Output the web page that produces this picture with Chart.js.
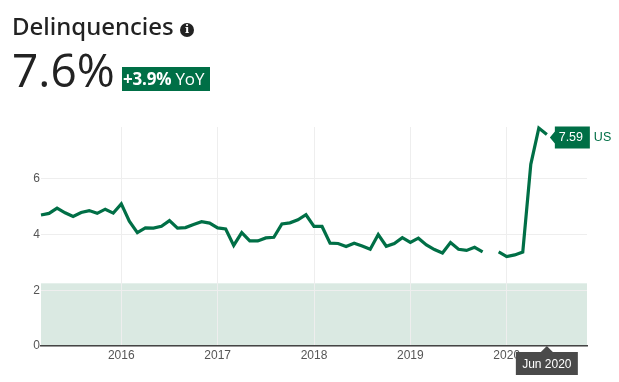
<!DOCTYPE html>
<html>
<head>
<meta charset="utf-8">
<script src="https://cdn.jsdelivr.net/npm/chart.js@4"></script>
<style>
  html, body { margin: 0; padding: 0; background: #fff; }
  #wrap { position: relative; width: 619px; height: 382px; overflow: hidden; }
  canvas { position: absolute; left: 0; top: 0; }
  .title { position: absolute; left: 12px; top: 9px; font: 500 24px "Noto Sans", sans-serif; color: #222; white-space: nowrap; }
  .info { position: absolute; left: 180px; top: 23px; width: 14px; height: 14px; border-radius: 50%; background: #222; color: #fff; font: bold 11px/14px "DejaVu Serif", serif; text-align: center; }
  .big { position: absolute; left: 12px; top: 38px; font: 400 46px "Open Sans", sans-serif; color: #222; white-space: nowrap; }
  .yoy { position: absolute; left: 122px; top: 67px; width: 88px; height: 24px; background: #006f46; color: #fff; font: 400 17px/24px "Open Sans", sans-serif; white-space: nowrap; overflow: hidden; letter-spacing: -0.2px; }
  .yoy b { font-weight: 700; margin-left: 1px; }
</style>
</head>
<body>
<div id="wrap">
  <canvas id="chart" width="619" height="382"></canvas>
  <div class="title">Delinquencies</div>
  <div class="info">i</div>
  <div class="big">7.6%</div>
  <div class="yoy"><b>+3.9%</b> YoY</div>
</div>
<script>
var green = "#006f46";

// monthly from Mar 2015 to Nov 2020
var months = ['Mar 2015','Apr 2015','May 2015','Jun 2015','Jul 2015','Aug 2015','Sep 2015','Oct 2015','Nov 2015','Dec 2015',
  'Jan 2016','Feb 2016','Mar 2016','Apr 2016','May 2016','Jun 2016','Jul 2016','Aug 2016','Sep 2016','Oct 2016','Nov 2016','Dec 2016',
  'Jan 2017','Feb 2017','Mar 2017','Apr 2017','May 2017','Jun 2017','Jul 2017','Aug 2017','Sep 2017','Oct 2017','Nov 2017','Dec 2017',
  'Jan 2018','Feb 2018','Mar 2018','Apr 2018','May 2018','Jun 2018','Jul 2018','Aug 2018','Sep 2018','Oct 2018','Nov 2018','Dec 2018',
  'Jan 2019','Feb 2019','Mar 2019','Apr 2019','May 2019','Jun 2019','Jul 2019','Aug 2019','Sep 2019','Oct 2019','Nov 2019','Dec 2019',
  'Jan 2020','Feb 2020','Mar 2020','Apr 2020','May 2020','Jun 2020','Jul 2020','Aug 2020','Sep 2020','Oct 2020','Nov 2020'];

var delinquencies = [4.70,4.76,4.95,4.78,4.65,4.79,4.86,4.76,4.91,4.77,
  5.10,4.48,4.07,4.24,4.23,4.30,4.50,4.23,4.25,4.36,4.46,4.41,
  4.24,4.20,3.61,4.07,3.77,3.77,3.88,3.90,4.38,4.42,4.53,4.71,
  4.29,4.29,3.69,3.68,3.57,3.69,3.59,3.47,4.00,3.58,3.68,3.89,
  3.72,3.87,3.63,3.46,3.34,3.71,3.47,3.43,3.54,3.38,null,3.38,
  3.21,3.27,3.37,6.52,7.82,7.59,null,null,null,null,null];

var yTicks = [0, 2, 4, 6];
var yMax = 7.86;
var bandTop = 2.25;
var currentIndex = 63;
var seriesName = "US";

var overlays = {
  id: "overlays",
  beforeDraw: function (chart) {
    var a = chart.chartArea, y = chart.scales.y, top = y.getPixelForValue(bandTop);
    chart.ctx.fillStyle = "#dae9e2";
    chart.ctx.fillRect(a.left, top, a.right - a.left, y.getPixelForValue(0) - top);
  },
  afterDraw: function (chart) {
    var ctx = chart.ctx;
    var pt = chart.getDatasetMeta(0).data[currentIndex];
    var bottom = chart.chartArea.bottom;
    ctx.save();

    // value flag at the end of the line
    var fx = pt.x + 7, fy = pt.y + 3;
    ctx.fillStyle = green;
    ctx.beginPath();
    ctx.moveTo(fx - 4, fy);
    ctx.lineTo(fx + 1, fy - 6);
    ctx.lineTo(fx + 1, fy - 11);
    ctx.lineTo(fx + 36, fy - 11);
    ctx.lineTo(fx + 36, fy + 11);
    ctx.lineTo(fx + 1, fy + 11);
    ctx.lineTo(fx + 1, fy + 6);
    ctx.closePath();
    ctx.fill();
    ctx.font = '12.5px "Liberation Sans", sans-serif';
    ctx.textBaseline = "middle";
    ctx.fillStyle = "#fff";
    ctx.textAlign = "center";
    ctx.fillText(delinquencies[currentIndex].toFixed(2), fx + 17, fy);
    ctx.fillStyle = green;
    ctx.textAlign = "left";
    ctx.fillText(seriesName, fx + 40, fy);

    // hover label under the axis
    var bw = 62, bh = 23, bx = pt.x - 31, by = bottom + 6;
    ctx.font = '12px "Liberation Sans", sans-serif';
    ctx.fillStyle = "#4a4a4a";
    ctx.beginPath();
    ctx.moveTo(pt.x, bottom);
    ctx.lineTo(pt.x + 6, by);
    ctx.lineTo(bx + bw, by);
    ctx.lineTo(bx + bw, by + bh);
    ctx.lineTo(bx, by + bh);
    ctx.lineTo(bx, by);
    ctx.lineTo(pt.x - 6, by);
    ctx.closePath();
    ctx.fill();
    ctx.fillStyle = "#fff";
    ctx.textAlign = "center";
    ctx.fillText(months[currentIndex], pt.x, by + bh / 2 + 1);
    ctx.restore();
  }
};

var delinquencyChart = new Chart(document.getElementById("chart").getContext("2d"), {
  type: 'line',
  data: {
    labels: months,
    datasets: [{
      label: seriesName,
      data: delinquencies,
      borderColor: green,
      borderWidth: 3.2,
      pointRadius: 0,
      tension: 0,
      spanGaps: false,
      borderJoinStyle: 'miter',
      clip: false
    }]
  },
  options: {
    responsive: false,
    animation: false,
    layout: { padding: { top: 127, right: 32, left: 0, bottom: 0 } },
    plugins: { legend: { display: false }, tooltip: { enabled: false } },
    scales: {
      x: {
        offset: false,
        afterFit: function (s) { s.height = 36; },
        grid: {
          drawTicks: false,
          color: function (c) {
            return c.tick && months[c.index].indexOf('Jan') === 0 ? "#eeeeee" : "transparent";
          }
        },
        border: { display: true, color: "#444444", width: 1.5 },
        ticks: {
          autoSkip: false,
          maxRotation: 0,
          padding: 2,
          color: "#555555",
          font: { family: '"Liberation Sans", sans-serif', size: 12 },
          callback: function (v, i) {
            return months[i].indexOf('Jan') === 0 ? months[i].slice(4) : '';
          }
        }
      },
      y: {
        min: 0,
        max: yMax,
        afterFit: function (s) { s.width = 41; },
        afterBuildTicks: function (s) {
          s.ticks = yTicks.map(function (v) { return { value: v }; });
        },
        grid: { drawTicks: false, color: "#eeeeee" },
        border: { display: false },
        ticks: {
          padding: 1,
          color: "#555555",
          font: { family: '"Liberation Sans", sans-serif', size: 12 }
        }
      }
    }
  },
  plugins: [overlays]
});
</script>
</body>
</html>
